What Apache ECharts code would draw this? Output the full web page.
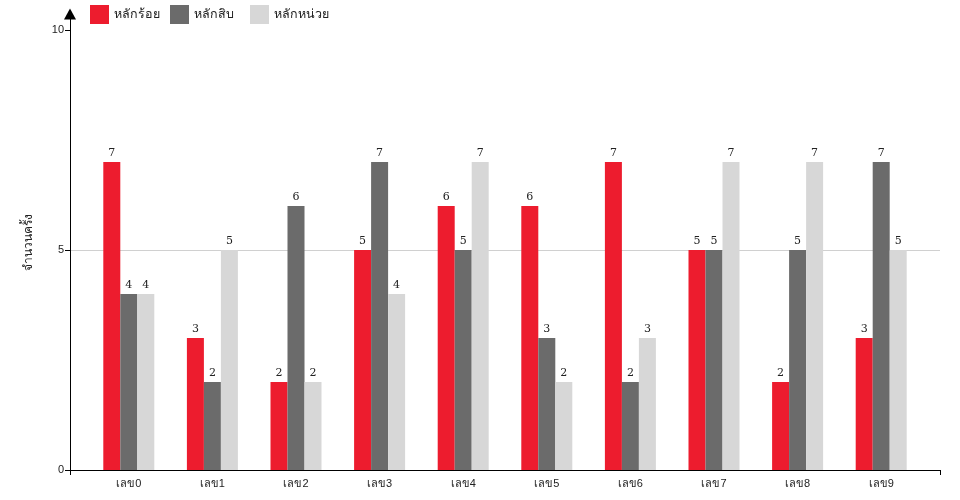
<!DOCTYPE html>
<html><head><meta charset="utf-8">
<script src="https://cdn.jsdelivr.net/npm/echarts@6/dist/echarts.min.js"></script>
<style>html,body{margin:0;padding:0;background:#fff}#c{width:960px;height:500px}</style>
</head><body><div id="c"></div>
<script>
const categories = ['เลข0','เลข1','เลข2','เลข3','เลข4','เลข5','เลข6','เลข7','เลข8','เลข9'];
const seriesNames = ['หลักร้อย','หลักสิบ','หลักหน่วย'];
const hundreds = [7,3,2,5,6,6,7,5,2,3];
const tens = [4,2,6,7,5,3,2,5,5,7];
const units = [4,5,2,4,7,2,3,7,7,5];
const yTicks = [0,5,10];
const colors = ['#ed1c2e','#6b6b6b','#d7d7d7'];
const yMax = 10.36;

const chart = echarts.init(document.getElementById('c'), null, {renderer:'canvas'});
const mk = (name, data, color) => ({
  name, type:'bar', data, barWidth:17, barGap:'0%', xAxisIndex:0, yAxisIndex:1,
  itemStyle:{color},
  label:{show:true, position:'top', distance:3, color:'#222', fontFamily:'DejaVu Serif', fontSize:11}
});
const legendAt = (name, left) => ({
  left, top:0, itemWidth:19, itemHeight:19, icon:'rect',
  textStyle:{fontSize:12.5, color:'#222', fontFamily:'sans-serif'},
  data:[name]
});
chart.setOption({
  animation:false,
  legend:[legendAt(seriesNames[0],85), legendAt(seriesNames[1],165), legendAt(seriesNames[2],245)],
  grid:[
    {left:70, right:20, top:14, bottom:30, containLabel:false},
    {left:87, right:37, top:14, bottom:30, containLabel:false}
  ],
  xAxis:[{
    type:'category', data:categories, gridIndex:1,
    axisLine:{show:false},
    axisTick:{alignWithLabel:true, length:5, lineStyle:{color:'#000'}},
    axisLabel:{color:'#222', fontSize:11, margin:8, fontFamily:'sans-serif'}
  },{
    type:'value', gridIndex:0, position:'bottom', min:0, max:10, interval:10,
    axisLine:{show:true, lineStyle:{color:'#000', width:1}}, axisLabel:{show:false}, splitLine:{show:false},
    axisTick:{show:true, length:5, lineStyle:{color:'#000'}}
  }],
  yAxis:[{
    type:'value', gridIndex:0, min:0, max:yMax, interval:5,
    name:'จำนวนครั้ง', nameLocation:'middle', nameGap:35,
    nameTextStyle:{color:'#222', fontSize:12},
    axisLine:{show:true, symbol:['none','triangle'], symbolSize:[12,11], lineStyle:{color:'#000'}},
    axisTick:{show:true, length:5, customValues:yTicks, lineStyle:{color:'#000'}},
    axisLabel:{color:'#222', fontSize:11, margin:6, customValues:yTicks},
    splitLine:{show:true, showMaxLine:false, lineStyle:{color:'#d0d0d0'}}
  },{
    type:'value', gridIndex:1, min:0, max:yMax, interval:5,
    axisLine:{show:false}, axisTick:{show:false}, axisLabel:{show:false}, splitLine:{show:false}
  }],
  series:[mk(seriesNames[0],hundreds,colors[0]), mk(seriesNames[1],tens,colors[1]), mk(seriesNames[2],units,colors[2])]
});
</script></body></html>
